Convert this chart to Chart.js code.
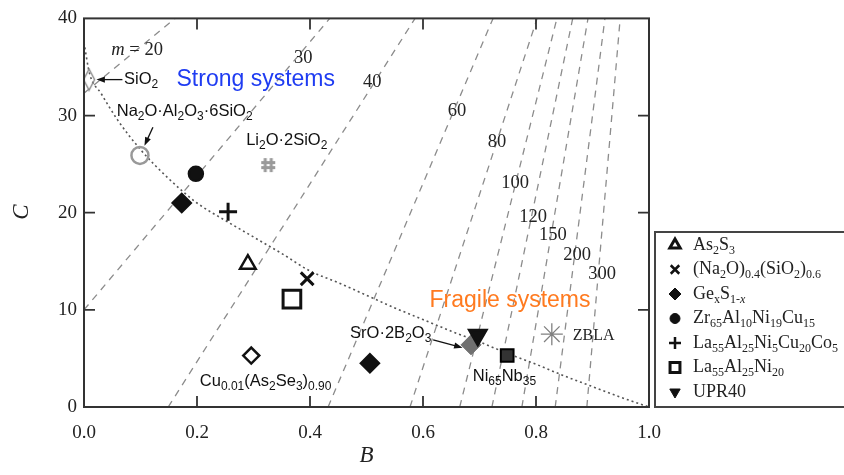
<!DOCTYPE html>
<html>
<head>
<meta charset="utf-8">
<script src="https://cdn.jsdelivr.net/npm/chart.js@4.4.0/dist/chart.umd.min.js"></script>
<style>
  html, body { margin: 0; padding: 0; background: #fff; }
</style>
</head>
<body>
<canvas id="chart" width="844" height="475"></canvas>
<script>
// iso-fragility lines (m), read as end points in (B, C)
const mValues = [20, 30, 40, 60, 80, 100, 120, 150, 200, 300];
const mLineStart = [[0, 32.3], [0, 10], [0.149, 0], [0.432, 0], [0.577, 0], [0.665, 0], [0.722, 0], [0.775, 0], [0.834, 0], [0.890, 0]];
const mLineEnd = [[0.161, 40], [0.435, 40], [0.586, 40], [0.724, 40], [0.802, 40], [0.837, 40], [0.865, 40], [0.892, 40], [0.922, 40], [0.949, 40]];

// dotted B-C curve
const curveB = [0, 0.01, 0.03, 0.06, 0.1, 0.15, 0.2, 0.25, 0.3, 0.35, 0.4, 0.45, 0.5, 0.55, 0.6, 0.65, 0.7, 0.75, 0.8, 0.85, 0.9, 0.95, 1.0];
const curveC = [37.5, 34.3, 32.3, 29.5, 26.5, 23.5, 21.0, 19.2, 17.5, 15.8, 14.0, 12.8, 11.5, 10.2, 9.0, 7.8, 6.7, 5.5, 4.4, 3.2, 2.1, 1.0, 0];

// glass systems [B, C]
const as2s3 = [[0.29, 14.7]];
const na2oSio2 = [[0.395, 13.2]];
const gexS = [[0.173, 21.0], [0.506, 4.5]];
const zrAlNiCu = [[0.198, 24.0]];
const laAlNiCuCo = [[0.255, 20.1]];
const laAlNi = [[0.368, 11.1]];
const upr40 = [[0.697, 7.4]];
const sio2 = [[0.009, 33.7]];
const albite = [[0.099, 25.9]];
const li2o = [[0.326, 24.9]];
const cuAsSe = [[0.296, 5.3]];
const sro = [[0.685, 6.4]];
const niNb = [[0.749, 5.3]];
const zbla = [[0.828, 7.5]];

const SERIF = '"Liberation Serif", "Times New Roman", serif';
const SANS = '"Liberation Sans", Arial, sans-serif';

const toXY = (arr) => arr.map(([x, y]) => ({ x, y }));

function makePointCanvas(w, h, draw) {
  const cv = document.createElement('canvas');
  cv.width = w;
  cv.height = h;
  draw(cv.getContext('2d'));
  return cv;
}

const tallDiamond = makePointCanvas(14, 24, (g) => {
  g.strokeStyle = '#8a8a8a';
  g.lineWidth = 1.4;
  g.beginPath();
  g.moveTo(7, 1.5); g.lineTo(12.5, 12); g.lineTo(7, 22.5); g.lineTo(1.5, 12); g.closePath();
  g.stroke();
});

const hashMark = makePointCanvas(18, 18, (g) => {
  g.strokeStyle = '#9a9a9a';
  g.lineWidth = 3;
  g.beginPath();
  g.moveTo(6, 2); g.lineTo(6, 16);
  g.moveTo(12, 2); g.lineTo(12, 16);
  g.moveTo(2, 6.5); g.lineTo(16, 6.5);
  g.moveTo(2, 11.5); g.lineTo(16, 11.5);
  g.stroke();
});

function markerSet(label, arr, style, extra) {
  return Object.assign({
    label: label,
    data: toXY(arr),
    pointStyle: style,
    pointRadius: 8,
    pointHoverRadius: 8,
    borderWidth: 2.5,
    borderColor: '#111',
    backgroundColor: '#111',
    showLine: false,
    order: 1,
  }, extra || {});
}

const datasets = [
  markerSet('As_{2}S_{3}', as2s3, 'triangle', { pointRadius: 9, backgroundColor: '#fff', legend: { r: 6, bw: 3, open: true } }),
  markerSet('(Na_{2}O)_{0.4}(SiO_{2})_{0.6}', na2oSio2, 'crossRot', { pointRadius: 9, borderWidth: 3, legend: { r: 6, bw: 2.5 } }),
  markerSet('Ge_{x}S_{1-}!{x}', gexS, 'rectRot', { pointRadius: 9, legend: { r: 6, bw: 1 } }),
  markerSet('Zr_{65}Al_{10}Ni_{19}Cu_{15}', zrAlNiCu, 'circle', { pointRadius: 7, legend: { r: 5, bw: 1 } }),
  markerSet('La_{55}Al_{25}Ni_{5}Cu_{20}Co_{5}', laAlNiCuCo, 'cross', { pointRadius: 9, borderWidth: 3, legend: { r: 6, bw: 2.5 } }),
  markerSet('La_{55}Al_{25}Ni_{20}', laAlNi, 'rect', { pointRadius: 12.5, borderWidth: 3, backgroundColor: '#fff', legend: { r: 7, bw: 3, open: true } }),
  markerSet('UPR40', upr40, 'triangle', { pointRadius: 10, rotation: 180, legend: { r: 6, bw: 1 } }),
  markerSet('SiO2', sio2, tallDiamond),
  markerSet('Na2O·Al2O3·6SiO2', albite, 'circle', { pointRadius: 8.5, borderColor: '#999', backgroundColor: 'rgba(0,0,0,0)', borderWidth: 2.5 }),
  markerSet('Li2O·2SiO2', li2o, hashMark),
  markerSet('Cu0.01(As2Se3)0.90', cuAsSe, 'rectRot', { pointRadius: 8, backgroundColor: '#fff', borderWidth: 2.5 }),
  markerSet('SrO·2B2O3', sro, 'rectRot', { pointRadius: 10, borderColor: '#707070', backgroundColor: '#707070', borderWidth: 1 }),
  markerSet('Ni65Nb35', niNb, 'rect', { pointRadius: 9, backgroundColor: '#333', borderColor: '#000', borderWidth: 2 }),
  markerSet('ZBLA', zbla, 'star', { pointRadius: 11, borderColor: '#808080', borderWidth: 1.3 }),
  {
    label: 'curve',
    data: curveB.map((b, i) => ({ x: b, y: curveC[i] })),
    showLine: true,
    borderColor: '#555',
    borderWidth: 1.6,
    borderDash: [2, 3],
    pointRadius: 0,
    cubicInterpolationMode: 'monotone',
    order: 5,
  },
];

mValues.forEach((m, i) => {
  datasets.push({
    label: 'm = ' + m,
    data: [
      { x: mLineStart[i][0], y: mLineStart[i][1] },
      { x: mLineEnd[i][0], y: mLineEnd[i][1] },
    ],
    showLine: true,
    borderColor: '#8c8c8c',
    borderWidth: 1.3,
    borderDash: [7, 6],
    pointRadius: 0,
    order: 10,
  });
});

// labels of the iso-m lines, centre in (B, C)
const mLabelPos = [[0.094, 36.75], [0.388, 35.9], [0.510, 33.4], [0.660, 30.5], [0.731, 27.3], [0.763, 23.0], [0.795, 19.5], [0.830, 17.7], [0.873, 15.6], [0.917, 13.7]];

const notes = [
  { text: 'SiO_{2}', at: [0.071, 33.7], font: SANS, size: 16.5, align: 'left', color: '#111' },
  { text: 'Na_{2}O·Al_{2}O_{3}·6SiO_{2}', at: [0.058, 30.4], font: SANS, size: 16.5, align: 'left', color: '#111' },
  { text: 'Li_{2}O·2SiO_{2}', at: [0.287, 27.4], font: SANS, size: 16.5, align: 'left', color: '#111' },
  { text: 'Cu_{0.01}(As_{2}Se_{3})_{0.90}', at: [0.205, 2.6], font: SANS, size: 16.5, align: 'left', color: '#111' },
  { text: 'SrO·2B_{2}O_{3}', at: [0.471, 7.6], font: SANS, size: 16.5, align: 'left', color: '#111' },
  { text: 'Ni_{65}Nb_{35}', at: [0.688, 3.1], font: SANS, size: 16.5, align: 'left', color: '#111' },
  { text: 'ZBLA', at: [0.865, 7.3], font: SERIF, size: 16, align: 'left', color: '#222' },
  { text: 'Strong systems', at: [0.304, 33.7], font: SANS, size: 23, align: 'center', color: '#1f3cf2' },
  { text: 'Fragile systems', at: [0.754, 10.9], font: SANS, size: 23, align: 'center', color: '#ff7a1f' },
];

const arrows = [
  { from: [0.068, 33.7], to: [0.022, 33.7] },
  { from: [0.122, 28.8], to: [0.107, 26.9] },
  { from: [0.618, 6.9], to: [0.670, 6.1] },
];

function parseRich(str) {
  const out = [];
  const re = /([_~!])\{([^}]*)\}/g;
  let last = 0;
  let m;
  while ((m = re.exec(str))) {
    if (m.index > last) out.push({ t: str.slice(last, m.index), k: '' });
    out.push({ t: m[2], k: m[1] });
    last = re.lastIndex;
  }
  if (last < str.length) out.push({ t: str.slice(last), k: '' });
  return out;
}

function drawRich(ctx, str, x, y, size, family, align, color, subRatio) {
  const ratio = subRatio || 0.72;
  const parts = parseRich(str);
  const isSub = (k) => k === '_' || k === '!';
  const fontFor = (k) => {
    const s = isSub(k) ? Math.round(size * ratio) : size;
    return ((k === '~' || k === '!') ? 'italic ' : '') + s + 'px ' + family;
  };
  let w = 0;
  parts.forEach((p) => {
    ctx.font = fontFor(p.k);
    p.w = ctx.measureText(p.t).width;
    w += p.w;
  });
  let cx = align === 'center' ? x - w / 2 : align === 'right' ? x - w : x;
  ctx.fillStyle = color;
  ctx.textAlign = 'left';
  ctx.textBaseline = 'middle';
  parts.forEach((p) => {
    ctx.font = fontFor(p.k);
    ctx.fillText(p.t, cx, y + (isSub(p.k) ? size * 0.32 : 0));
    cx += p.w;
  });
}

function drawArrow(ctx, x1, y1, x2, y2) {
  const a = Math.atan2(y2 - y1, x2 - x1);
  const len = 9;
  ctx.strokeStyle = '#111';
  ctx.fillStyle = '#111';
  ctx.lineWidth = 1.3;
  ctx.beginPath();
  ctx.moveTo(x1, y1);
  ctx.lineTo(x2 - Math.cos(a) * len * 0.8, y2 - Math.sin(a) * len * 0.8);
  ctx.stroke();
  ctx.beginPath();
  ctx.moveTo(x2, y2);
  ctx.lineTo(x2 - len * Math.cos(a - 0.35), y2 - len * Math.sin(a - 0.35));
  ctx.lineTo(x2 - len * Math.cos(a + 0.35), y2 - len * Math.sin(a + 0.35));
  ctx.closePath();
  ctx.fill();
}

const framePlugin = {
  id: 'frame',
  afterDatasetsDraw(chart) {
    const { ctx, chartArea: a, scales } = chart;
    const xs = scales.x;
    const ys = scales.y;
    ctx.save();
    // axis box + inward ticks on all four sides
    ctx.strokeStyle = '#333';
    ctx.lineWidth = 2;
    ctx.strokeRect(a.left, a.top, a.right - a.left, a.bottom - a.top);
    ctx.lineWidth = 1.8;
    ctx.beginPath();
    [0.2, 0.4, 0.6, 0.8].forEach((v) => {
      const px = xs.getPixelForValue(v);
      ctx.moveTo(px, a.bottom); ctx.lineTo(px, a.bottom - 11);
      ctx.moveTo(px, a.top); ctx.lineTo(px, a.top + 11);
    });
    [10, 20, 30].forEach((v) => {
      const py = ys.getPixelForValue(v);
      ctx.moveTo(a.left, py); ctx.lineTo(a.left + 11, py);
      ctx.moveTo(a.right, py); ctx.lineTo(a.right - 11, py);
    });
    ctx.stroke();

    // m labels
    mLabelPos.forEach(([b, c], i) => {
      const px = xs.getPixelForValue(b);
      const py = ys.getPixelForValue(c);
      const txt = i === 0 ? '~{m} = 20' : String(mValues[i]);
      drawRich(ctx, txt, px, py, 18.5, SERIF, 'center', '#222');
    });

    notes.forEach((n) => {
      drawRich(ctx, n.text, xs.getPixelForValue(n.at[0]), ys.getPixelForValue(n.at[1]), n.size, n.font, n.align, n.color);
    });
    arrows.forEach((ar) => {
      drawArrow(ctx, xs.getPixelForValue(ar.from[0]), ys.getPixelForValue(ar.from[1]),
        xs.getPixelForValue(ar.to[0]), ys.getPixelForValue(ar.to[1]));
    });

    // axis titles
    ctx.fillStyle = '#222';
    ctx.font = 'italic 23px ' + SERIF;
    ctx.textAlign = 'center';
    ctx.textBaseline = 'middle';
    ctx.fillText('B', (a.left + a.right) / 2, 456);
    ctx.save();
    ctx.translate(22, 212);
    ctx.rotate(-Math.PI / 2);
    ctx.fillText('C', 0, 0);
    ctx.restore();

    // legend box
    ctx.strokeStyle = '#444';
    ctx.lineWidth = 2;
    ctx.strokeRect(655, 232, 200, 175);
    const rows = chart.data.datasets.filter((d) => d.legend);
    rows.forEach((d, i) => {
      const y = 245 + i * 24.5;
      ctx.fillStyle = d.legend.open ? '#fff' : '#111';
      ctx.strokeStyle = '#111';
      ctx.lineWidth = d.legend.bw;
      Chart.helpers.drawPoint(ctx, {
        pointStyle: d.pointStyle,
        radius: d.legend.r,
        rotation: d.rotation || 0,
        borderWidth: d.legend.bw,
      }, 675, y);
      drawRich(ctx, d.label, 693, y, 18, SERIF, 'left', '#222', 0.68);
    });
    ctx.restore();
  },
};

new Chart(document.getElementById('chart'), {
  type: 'scatter',
  data: { datasets },
  options: {
    responsive: false,
    animation: false,
    events: [],
    layout: { padding: { left: 0, right: 195, top: 13, bottom: 0 } },
    plugins: {
      legend: { display: false },
      tooltip: { enabled: false },
    },
    scales: {
      x: {
        type: 'linear',
        min: 0,
        max: 1,
        grid: { display: false, drawTicks: false },
        border: { display: false },
        ticks: {
          stepSize: 0.2,
          padding: 15,
          color: '#222',
          font: { family: SERIF, size: 19 },
          callback: (v) => v.toFixed(1),
        },
        afterFit: (s) => { s.height = 68; },
      },
      y: {
        type: 'linear',
        min: 0,
        max: 40,
        grid: { display: false, drawTicks: false },
        border: { display: false },
        ticks: {
          stepSize: 10,
          padding: 7,
          color: '#222',
          font: { family: SERIF, size: 19 },
        },
        afterFit: (s) => { s.width = 84; },
      },
    },
  },
  plugins: [framePlugin],
});
</script>
</body>
</html>
